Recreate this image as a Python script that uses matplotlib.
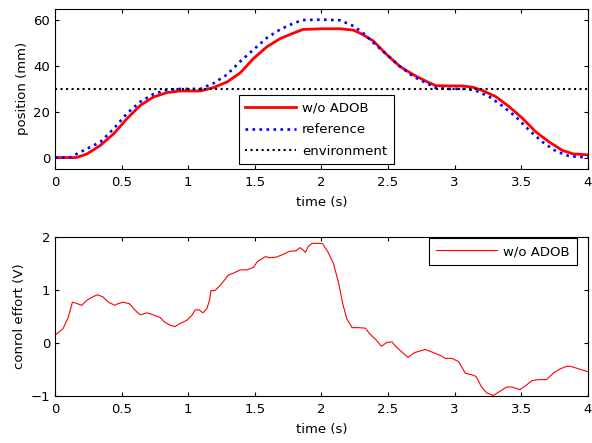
import matplotlib
matplotlib.use('Agg')
import matplotlib.pyplot as plt

plt.rcParams['font.family'] = ['DejaVu Sans']
plt.rcParams['font.size'] = 9.5

# top panel: position (mm)
t_pos = [0.0, 0.16, 0.24, 0.34, 0.44, 0.54, 0.64, 0.74, 0.84, 0.94, 1.09, 1.19, 1.29,
         1.39, 1.49, 1.59, 1.69, 1.79, 1.86, 2.01, 2.14, 2.24, 2.31, 2.39, 2.49, 2.59,
         2.69, 2.79, 2.86, 2.96, 3.06, 3.14, 3.21, 3.31, 3.41, 3.51, 3.61, 3.71, 3.81,
         3.89, 4.0]
pos_wo_adob = [0.0, 0.0, 1.6, 5.3, 10.4, 17.0, 22.8, 26.5, 28.4, 29.1, 29.1, 30.6, 33.0,
               37.0, 43.3, 48.4, 52.0, 54.4, 56.0, 56.3, 56.3, 55.7, 53.8, 50.9, 45.0, 39.8,
               36.2, 33.2, 31.4, 31.3, 31.3, 30.7, 29.3, 26.6, 22.2, 17.1, 11.2, 6.8, 3.1,
               1.6, 1.2]

t_ref = [0.0, 0.11, 0.21, 0.34, 0.44, 0.54, 0.64, 0.74, 0.84, 0.94, 1.09, 1.19, 1.29,
         1.39, 1.49, 1.59, 1.69, 1.79, 1.86, 2.01, 2.14, 2.24, 2.31, 2.39, 2.49, 2.59,
         2.69, 2.79, 2.86, 2.96, 3.09, 3.16, 3.26, 3.36, 3.46, 3.56, 3.66, 3.76, 3.86, 4.0]
pos_ref = [0.0, 0.0, 3.0, 6.8, 12.6, 19.3, 24.4, 27.8, 29.6, 30.0, 30.0, 32.5, 36.2,
           42.0, 47.2, 52.3, 56.0, 58.7, 60.1, 60.3, 60.0, 57.5, 54.6, 50.2, 45.0, 39.8,
           35.4, 32.5, 30.4, 30.0, 30.0, 29.2, 26.6, 22.5, 17.8, 11.9, 6.8, 2.8, 0.6, 0.0]

t_env = [0.0, 4.0]
pos_env = [30.0, 30.0]

# bottom panel: control effort (V)
t_u = [0.0, 0.06, 0.10, 0.13, 0.16, 0.20, 0.24, 0.29, 0.32, 0.36, 0.40, 0.45, 0.47,
       0.51, 0.56, 0.60, 0.64, 0.69, 0.74, 0.79, 0.82, 0.86, 0.90, 0.94, 0.99, 1.03,
       1.05, 1.08, 1.11, 1.14, 1.16, 1.17, 1.20, 1.23, 1.26, 1.30, 1.34, 1.39, 1.44,
       1.49, 1.52, 1.58, 1.61, 1.66, 1.71, 1.76, 1.81, 1.84, 1.88, 1.90, 1.93, 1.99,
       2.01, 2.05, 2.09, 2.13, 2.16, 2.19, 2.23, 2.28, 2.33, 2.36, 2.41, 2.45, 2.49,
       2.53, 2.56, 2.60, 2.65, 2.70, 2.78, 2.84, 2.89, 2.93, 2.98, 3.03, 3.08, 3.13,
       3.16, 3.20, 3.24, 3.29, 3.34, 3.39, 3.43, 3.49, 3.53, 3.58, 3.63, 3.69, 3.74,
       3.79, 3.84, 3.87, 3.91, 3.96, 4.0]
u_wo_adob = [0.15, 0.27, 0.49, 0.77, 0.75, 0.71, 0.81, 0.88, 0.91, 0.87, 0.77, 0.71, 0.74,
             0.77, 0.74, 0.62, 0.53, 0.57, 0.53, 0.48, 0.40, 0.34, 0.31, 0.37, 0.43, 0.53,
             0.62, 0.63, 0.57, 0.65, 0.81, 0.99, 0.99, 1.06, 1.15, 1.28, 1.32, 1.38, 1.38,
             1.43, 1.54, 1.63, 1.61, 1.62, 1.67, 1.73, 1.74, 1.80, 1.71, 1.82, 1.88, 1.88,
             1.87, 1.71, 1.50, 1.12, 0.74, 0.46, 0.29, 0.29, 0.28, 0.18, 0.06, -0.06, 0.01,
             0.02, -0.07, -0.16, -0.27, -0.18, -0.12, -0.18, -0.23, -0.29, -0.29, -0.35, -0.57, -0.60,
             -0.63, -0.82, -0.94, -0.99, -0.91, -0.83, -0.83, -0.88, -0.81, -0.71, -0.69, -0.69, -0.57,
             -0.49, -0.44, -0.44, -0.47, -0.51, -0.54]

fig = plt.figure(figsize=(5.92, 4.43), dpi=100)
ax1 = fig.add_axes([0.093, 0.6185, 0.900, 0.3615])
ax2 = fig.add_axes([0.093, 0.106, 0.900, 0.359])

ax1.plot(t_pos, pos_wo_adob, color='#ff0000', lw=2.0, label='w/o ADOB')
ax1.plot(t_ref, pos_ref, color='#0000ff', lw=1.9, ls=':', label='reference')
ax1.plot(t_env, pos_env, color='black', lw=1.5, ls=':', label='environment')
ax1.set_xlim(0, 4)
ax1.set_ylim(-5, 65)
ax1.set_yticks([0, 20, 40, 60])
ax1.set_xlabel('time (s)', labelpad=5)
ax1.set_ylabel('position (mm)', labelpad=3)
leg1 = ax1.legend(loc='lower left', bbox_to_anchor=(0.345, 0.03), borderaxespad=0,
                  handlelength=3.8, handletextpad=0.5, fancybox=False, framealpha=1,
                  labelspacing=0.64, borderpad=0.5)
leg1.get_frame().set_edgecolor('black')
leg1.get_frame().set_linewidth(0.8)

ax2.plot(t_u, u_wo_adob, color='#ff0000', lw=0.8, label='w/o ADOB')
ax2.set_xlim(0, 4)
ax2.set_ylim(-1, 2)
ax2.set_yticks([-1, 0, 1, 2])
ax2.set_xlabel('time (s)', labelpad=5)
ax2.set_ylabel('conrol effort (V)', labelpad=3)
leg2 = ax2.legend(loc='upper right', bbox_to_anchor=(0.98, 0.995), borderaxespad=0,
                  handlelength=4.6, handletextpad=0.5, fancybox=False, framealpha=1,
                  borderpad=0.55)
leg2.get_frame().set_edgecolor('black')
leg2.get_frame().set_linewidth(0.8)

for ax in (ax1, ax2):
    ax.tick_params(direction='in', top=True, right=True, length=3, labelsize=9.5)
    ax.tick_params(axis='x', pad=5)
    ax.set_xticks([0, 0.5, 1, 1.5, 2, 2.5, 3, 3.5, 4])
    ax.set_xticklabels(['0', '0.5', '1', '1.5', '2', '2.5', '3', '3.5', '4'])
    for s in ax.spines.values():
        s.set_linewidth(0.8)

fig.savefig('out.png', dpi=100, facecolor='white')
